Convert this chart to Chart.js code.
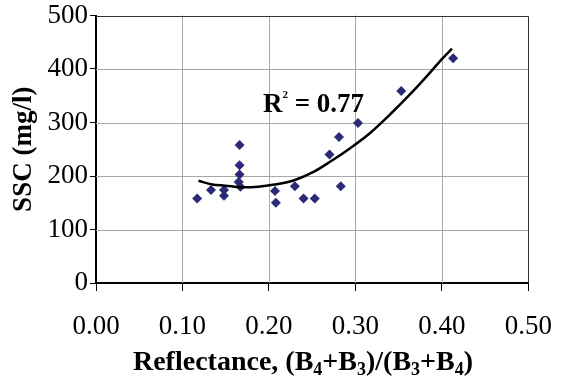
<!DOCTYPE html>
<html>
<head>
<meta charset="utf-8">
<script src="https://cdn.jsdelivr.net/npm/chart.js@4/dist/chart.umd.min.js"></script>
<style>
  html, body { margin: 0; padding: 0; background: #fff; }
  canvas { display: block; }
</style>
</head>
<body>
<canvas id="chart" width="574" height="380"></canvas>
<script>
// ======= Data =======
const reflectance = [0.117, 0.133, 0.148, 0.148, 0.166, 0.166, 0.166, 0.165, 0.167, 0.207, 0.208, 0.230, 0.240, 0.253, 0.270, 0.281, 0.283, 0.303, 0.353, 0.413];
const ssc         = [158, 174, 174, 163, 258, 220, 203, 189, 180, 172, 150, 181, 158, 158, 240, 273, 181, 299, 359, 420];

// trend curve
const trendX = [0.1185, 0.1344, 0.1496, 0.1686, 0.1876, 0.2066, 0.2293, 0.2521, 0.2711, 0.2939, 0.3167, 0.3394, 0.3622, 0.3850, 0.4002, 0.4116];
const trendY = [191, 184, 182, 179, 180, 184, 192, 208, 227, 252, 280, 314, 351, 391, 419, 438];

const xTicks = [0, 0.1, 0.2, 0.3, 0.4, 0.5];
const yTicks = [0, 100, 200, 300, 400, 500];
const r2Label = '0.77';

// ======= Helpers =======
const SERIF = "'Liberation Serif', 'Times New Roman', serif";
const pts = (xs, ys) => xs.map((x, i) => ({ x, y: ys[i] }));

// plot-area grid + border, x title with subscripts, R² note
const annotate = {
  id: 'annotate',
  beforeDatasetsDraw(chart) {
    const { ctx, chartArea: a, scales: { x, y } } = chart;
    ctx.save();
    ctx.lineWidth = 1;
    ctx.strokeStyle = '#a8a8a8';
    ctx.beginPath();
    for (const v of xTicks.slice(1, -1)) {
      const px = Math.round(x.getPixelForValue(v)) + 0.5;
      ctx.moveTo(px, a.top); ctx.lineTo(px, a.bottom);
    }
    for (const v of yTicks.slice(1, -1)) {
      const py = Math.round(y.getPixelForValue(v)) + 0.5;
      ctx.moveTo(a.left, py); ctx.lineTo(a.right, py);
    }
    ctx.stroke();
    ctx.strokeStyle = '#333';
    ctx.beginPath();
    const top = Math.round(a.top) + 0.5, right = Math.round(a.right) + 0.5;
    ctx.moveTo(a.left, top); ctx.lineTo(right, top); ctx.lineTo(right, a.bottom);
    ctx.stroke();
    ctx.restore();
  },
  afterDraw(chart) {
    const { ctx, scales: { x, y } } = chart;
    ctx.save();
    ctx.fillStyle = '#000';
    ctx.textBaseline = 'alphabetic';
    ctx.textAlign = 'left';

    // R² = 0.77
    let px = x.getPixelForValue(0.193), py = y.getPixelForValue(320);
    ctx.font = `bold 27px ${SERIF}`;
    ctx.fillText('R', px, py);
    px += ctx.measureText('R').width;
    ctx.font = `bold 11px ${SERIF}`;
    ctx.fillText('2', px, py - 14);
    px += ctx.measureText('2').width;
    ctx.font = `bold 27px ${SERIF}`;
    ctx.fillText(' = ' + r2Label, px, py);

    // x axis title
    const parts = [
      ['Reflectance, (B', 0], ['4', 1], ['+B', 0], ['3', 1],
      [')/(B', 0], ['3', 1], ['+B', 0], ['4', 1], [')', 0]
    ];
    const fontFor = sub => sub ? `bold 18px ${SERIF}` : `bold 28px ${SERIF}`;
    let total = 0;
    for (const [t, sub] of parts) { ctx.font = fontFor(sub); total += ctx.measureText(t).width; }
    let tx = 303 - total / 2;
    const ty = 370;
    for (const [t, sub] of parts) {
      ctx.font = fontFor(sub);
      ctx.fillText(t, tx, sub ? ty + 5 : ty);
      tx += ctx.measureText(t).width;
    }
    ctx.restore();
  }
};

// ======= Chart =======
new Chart(document.getElementById('chart'), {
  type: 'scatter',
  data: {
    datasets: [
      {
        label: 'SSC',
        data: pts(reflectance, ssc),
        pointStyle: 'rectRot',
        pointRadius: 5,
        pointHoverRadius: 5,
        backgroundColor: '#2a2a78',
        borderColor: '#2a2a78',
        borderWidth: 0,
        order: 2
      },
      {
        label: 'trend',
        data: pts(trendX, trendY),
        showLine: true,
        borderColor: '#000',
        borderWidth: 2.5,
        pointRadius: 0,
        cubicInterpolationMode: 'monotone',
        fill: false,
        order: 1
      }
    ]
  },
  options: {
    responsive: false,
    animation: false,
    devicePixelRatio: 1,
    layout: { padding: { left: 0, right: 40, top: 15, bottom: 0 } },
    plugins: { legend: { display: false }, tooltip: { enabled: false } },
    scales: {
      x: {
        type: 'linear',
        min: 0, max: 0.5,
        afterBuildTicks: s => { s.ticks = xTicks.map(v => ({ value: v })); },
        afterFit: s => { s.height = 97; },
        ticks: {
          callback: v => Number(v).toFixed(2),
          font: { family: SERIF, size: 27, lineHeight: 1 },
          color: '#000',
          padding: 22,
          maxRotation: 0
        },
        grid: {
          drawOnChartArea: false,
          color: '#000',
          tickLength: 8
        },
        border: { color: '#000', width: 2 },
        title: { display: false }
      },
      y: {
        type: 'linear',
        min: 0, max: 500,
        afterBuildTicks: s => { s.ticks = yTicks.map(v => ({ value: v })); },
        afterFit: s => { s.width = 96; },
        ticks: {
          font: { family: SERIF, size: 27, lineHeight: 1 },
          color: '#000',
          padding: 2
        },
        grid: {
          drawOnChartArea: false,
          color: '#000',
          tickLength: 6
        },
        border: { color: '#000', width: 2 },
        title: {
          display: true,
          text: 'SSC (mg/l)',
          font: { family: SERIF, size: 27, weight: 'bold' },
          color: '#000',
          padding: { top: 8, bottom: 0 }
        }
      }
    }
  },
  plugins: [annotate]
});
</script>
</body>
</html>
